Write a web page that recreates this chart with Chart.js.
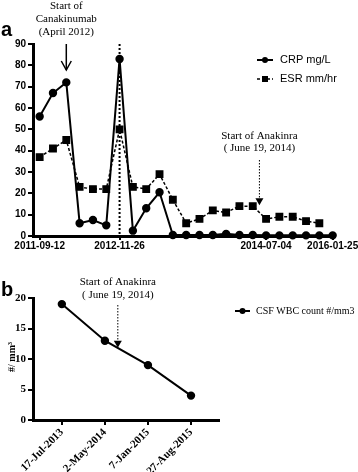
<!DOCTYPE html>
<html>
<head>
<meta charset="utf-8">
<script src="https://cdn.jsdelivr.net/npm/chart.js@4.4.1/dist/chart.umd.min.js"></script>
<style>
  body { margin: 0; background: #fff; width: 358px; height: 472px; position: relative; overflow: hidden; }
  canvas { position: absolute; left: 0; }
  #ca { top: 0; }
  #cb { top: 250px; }
</style>
</head>
<body>
<canvas id="ca" width="358" height="250"></canvas>
<canvas id="cb" width="358" height="222"></canvas>
<script>
// panel a: CRP / ESR per visit (visit index on x)
const crp = [56, 67, 72, 6, 7.5, 5, 83, 2.5, 13, 20.5, 0.5, 0.5, 0.5, 0.5, 1, 0.5, 0.5, 0.3, 0.3, 0.3, 0.3, 0.3, 0.3];
const esr = [37, 41, 45, 23, 22, 22, 50, 23, 22, 29, 17, 6, 8, 12, 11, 14, 14, 8, 9, 9, 7, 6];
const aTickPos = [0, 6, 17, 22];
const aTickLabels = ['2011-09-12', '2012-11-26', '2014-07-04', '2016-01-25'];

// panel b: CSF WBC count
const bLabels = ['17-Jul-2013', '2-May-2014', '7-Jan-2015', '27-Aug-2015'];
const csf = [19, 13, 9, 4];

const SANS = '"Liberation Sans", Arial, sans-serif';
const SERIF = '"Liberation Serif", "Times New Roman", serif';

function arrowHead(ctx, x, y, filled) {
  ctx.beginPath();
  if (filled) {
    ctx.moveTo(x - 4, y - 7); ctx.lineTo(x + 4, y - 7); ctx.lineTo(x, y); ctx.closePath(); ctx.fill();
  } else {
    ctx.moveTo(x - 5, y - 9); ctx.lineTo(x, y); ctx.lineTo(x + 5, y - 9); ctx.stroke();
  }
}

const annA = {
  id: 'annA',
  afterDraw(chart) {
    const ctx = chart.ctx, xs = chart.scales.x, ys = chart.scales.y;
    ctx.save();
    ctx.fillStyle = '#000'; ctx.strokeStyle = '#000';
    ctx.textBaseline = 'middle';
    ctx.font = 'bold 20px ' + SANS; ctx.textAlign = 'left';
    ctx.fillText('a', 1, 30);

    // Canakinumab
    let x = xs.getPixelForValue(2);
    ctx.font = '11px ' + SERIF; ctx.textAlign = 'center';
    ctx.fillText('Start of', x, 6);
    ctx.fillText('Canakinumab', x, 19);
    ctx.fillText('(April 2012)', x, 32);
    ctx.lineWidth = 1.5; ctx.setLineDash([]);
    ctx.beginPath(); ctx.moveTo(x, 44); ctx.lineTo(x, 70); ctx.stroke();
    arrowHead(ctx, x, 70, false);

    // dotted vertical line
    x = xs.getPixelForValue(6);
    ctx.lineWidth = 2; ctx.setLineDash([2, 2]);
    ctx.beginPath(); ctx.moveTo(x, ys.getPixelForValue(90)); ctx.lineTo(x, ys.getPixelForValue(0)); ctx.stroke();

    // Anakinra
    x = xs.getPixelForValue(16.5);
    ctx.setLineDash([]);
    ctx.fillText('Start of Anakinra', x, 136);
    ctx.fillText('( June 19, 2014)', x, 148);
    const tip = ys.getPixelForValue(14) - 1;
    ctx.lineWidth = 1; ctx.setLineDash([1.5, 1.5]);
    ctx.beginPath(); ctx.moveTo(x, 160); ctx.lineTo(x, tip - 6); ctx.stroke();
    ctx.setLineDash([]);
    arrowHead(ctx, x, tip, true);

    // legend
    ctx.font = '11px ' + SANS; ctx.textAlign = 'left';
    ctx.lineWidth = 2;
    ctx.beginPath(); ctx.moveTo(257, 60); ctx.lineTo(273, 60); ctx.stroke();
    ctx.beginPath(); ctx.arc(265, 60, 3, 0, Math.PI * 2); ctx.fill();
    ctx.fillText('CRP mg/L', 280, 60);
    ctx.lineWidth = 1.5; ctx.setLineDash([3, 2]);
    ctx.beginPath(); ctx.moveTo(257, 79); ctx.lineTo(273, 79); ctx.stroke();
    ctx.setLineDash([]);
    ctx.fillRect(262, 76, 6, 6);
    ctx.fillText('ESR mm/hr', 280, 79);
    ctx.restore();
  }
};

const annB = {
  id: 'annB',
  afterDraw(chart) {
    const ctx = chart.ctx, xs = chart.scales.x, ys = chart.scales.y;
    ctx.save();
    ctx.fillStyle = '#000'; ctx.strokeStyle = '#000';
    ctx.textBaseline = 'middle';
    ctx.font = 'bold 20px ' + SANS; ctx.textAlign = 'left';
    ctx.fillText('b', 1, 40);

    const x = xs.getPixelForValue(1.3);
    ctx.font = '11px ' + SERIF; ctx.textAlign = 'center';
    ctx.fillText('Start of Anakinra', x, 32);
    ctx.fillText('( June 19, 2014)', x, 45);
    const tip = ys.getPixelForValue(12) + 1;
    ctx.lineWidth = 1; ctx.setLineDash([1.5, 1.5]);
    ctx.beginPath(); ctx.moveTo(x, 55); ctx.lineTo(x, tip - 6); ctx.stroke();
    ctx.setLineDash([]);
    arrowHead(ctx, x, tip, true);

    // legend
    ctx.textAlign = 'left';
    ctx.lineWidth = 2;
    ctx.beginPath(); ctx.moveTo(235, 61); ctx.lineTo(250, 61); ctx.stroke();
    ctx.beginPath(); ctx.arc(242.5, 61, 3, 0, Math.PI * 2); ctx.fill();
    ctx.font = '10px ' + SERIF;
    ctx.fillText('CSF WBC count #/mm3', 256, 61);

    // y title
    ctx.translate(12, 107); ctx.rotate(-Math.PI / 2);
    ctx.font = 'bold 10px ' + SERIF; ctx.textAlign = 'center';
    ctx.fillText('#/ mm³', 0, 0);
    ctx.restore();
  }
};

const axisGrid = { display: true, drawOnChartArea: false, drawTicks: true, tickLength: 5, color: '#000', lineWidth: 2 };
const axisBorder = { display: true, color: '#000', width: 3 };

new Chart(document.getElementById('ca'), {
  type: 'line',
  data: {
    datasets: [
      {
        label: 'CRP mg/L',
        data: crp.map((v, i) => ({ x: i, y: v })),
        borderColor: '#000', backgroundColor: '#000', borderWidth: 2,
        pointStyle: 'circle', pointRadius: 3.2, tension: 0
      },
      {
        label: 'ESR mm/hr',
        data: esr.map((v, i) => ({ x: i, y: v })),
        borderColor: '#000', backgroundColor: '#000', borderWidth: 1.5,
        borderDash: [3, 2],
        pointStyle: 'rect', pointRadius: 4.5, tension: 0
      }
    ]
  },
  options: {
    responsive: false, animation: false, devicePixelRatio: 1,
    clip: false,
    layout: { padding: { top: 44, right: 24, left: 0, bottom: 0 } },
    plugins: { legend: { display: false }, tooltip: { enabled: false } },
    scales: {
      x: {
        type: 'linear', min: -0.5, max: 22.1,
        afterBuildTicks: s => { s.ticks = aTickPos.map(v => ({ value: v })); },
        afterFit: s => { s.height = 14; s.paddingLeft = 0; s.paddingRight = 0; },
        grid: { ...axisGrid, tickLength: 4 },
        border: axisBorder,
        ticks: {
          autoSkip: false, maxRotation: 0, padding: 0,
          color: '#000', font: { family: SANS, size: 10, weight: 'bold' },
          callback: v => aTickLabels[aTickPos.indexOf(v)]
        }
      },
      y: {
        min: 0, max: 90,
        afterFit: s => { s.width = 33; },
        grid: axisGrid,
        border: axisBorder,
        ticks: {
          stepSize: 10, padding: 2,
          color: '#000', font: { family: SANS, size: 10, weight: 'bold' }
        }
      }
    }
  },
  plugins: [annA]
});

new Chart(document.getElementById('cb'), {
  type: 'line',
  data: {
    datasets: [{
      label: 'CSF WBC count #/mm3',
      data: csf.map((v, i) => ({ x: i, y: v })),
      borderColor: '#000', backgroundColor: '#000', borderWidth: 2,
      pointStyle: 'circle', pointRadius: 3.2, tension: 0
    }]
  },
  options: {
    responsive: false, animation: false, devicePixelRatio: 1,
    clip: false,
    layout: { padding: { top: 48, right: 139, left: 0, bottom: 0 } },
    plugins: { legend: { display: false }, tooltip: { enabled: false } },
    scales: {
      x: {
        type: 'linear', min: -0.67, max: 3.65,
        afterBuildTicks: s => { s.ticks = bLabels.map((_, i) => ({ value: i })); },
        afterFit: s => { s.height = 52; s.paddingLeft = 0; s.paddingRight = 0; },
        grid: { ...axisGrid, tickLength: 5 },
        border: axisBorder,
        ticks: {
          autoSkip: false, minRotation: 45, maxRotation: 45, padding: 1,
          color: '#000', font: { family: SERIF, size: 11, weight: 'bold' },
          callback: v => bLabels[v]
        }
      },
      y: {
        min: 0, max: 20,
        afterFit: s => { s.width = 33; },
        grid: axisGrid,
        border: axisBorder,
        ticks: {
          stepSize: 5, padding: 2,
          color: '#000', font: { family: SERIF, size: 11, weight: 'bold' }
        }
      }
    }
  },
  plugins: [annB]
});
</script>
</body>
</html>
